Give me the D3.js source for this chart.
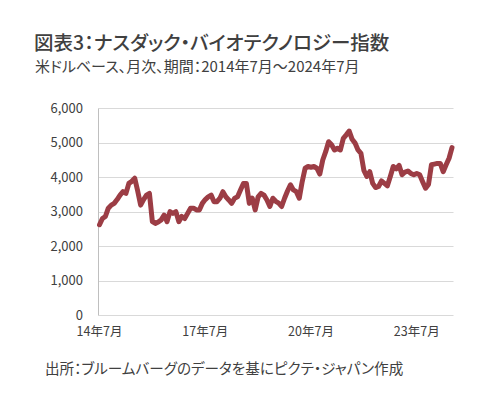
<!DOCTYPE html>
<html>
<head>
<meta charset="utf-8">
<script src="https://cdn.jsdelivr.net/npm/d3@7"></script>
<style>
  body { margin: 0; background: #fff; }
  svg text { font-family: "Noto Sans CJK JP", "Noto Sans", sans-serif; font-feature-settings: "palt"; }
</style>
</head>
<body>
<svg id="chart" width="501" height="398"></svg>
<script>
// monthly index level, 2014-07 .. 2024-07
var values = [
  2620, 2800, 2860, 3100, 3190, 3240, 3350, 3480, 3580, 3530, 3820, 3880,
  3970, 3600, 3190, 3350, 3480, 3530, 2710, 2660, 2700, 2760, 2900, 2710,
  3000, 2950, 3000, 2710, 2860, 2800, 2950, 3100, 3100, 3050, 3050, 3240,
  3350, 3430, 3480, 3290, 3290, 3390, 3580, 3430, 3340, 3240, 3390, 3430,
  3630, 3820, 3820, 3240, 3390, 3050, 3430, 3530, 3480, 3340, 3150, 3390,
  3300, 3250, 3150, 3390, 3600, 3780, 3630, 3580, 3390, 3870, 4260, 4310,
  4290, 4310, 4260, 4090, 4500, 4740, 5030, 4940, 4790, 4840, 4790, 5130,
  5230, 5340, 5100, 4990, 4790, 4690, 4200, 4020, 4160, 3820, 3700, 3730,
  3890, 3820, 3750, 4020, 4310, 4240, 4340, 4070, 4150, 4180, 4110, 4070,
  4110, 4070, 3870, 3680, 3790, 4360, 4380, 4400, 4400, 4160, 4360, 4550,
  4860
];
var yTicks = [0, 1000, 2000, 3000, 4000, 5000, 6000];
var xTickIdx = [0, 36, 72, 108];
var xTickLabels = ["14年7月", "17年7月", "20年7月", "23年7月"];

var title = "図表3：ナスダック・バイオテクノロジー指数";
var subtitle = "米ドルベース、月次、期間：2014年7月～2024年7月";
var source = "出所：ブルームバーグのデータを基にピクテ・ジャパン作成";

var svg = d3.select("#chart");

var x = d3.scaleLinear().domain([0, values.length - 1]).range([99.5, 452]);
var y = d3.scaleLinear().domain([0, 6000]).range([315, 108.3]);

svg.append("text")
  .attr("x", 34).attr("y", 50)
  .attr("font-size", 19.5).attr("font-weight", 500)
  .attr("fill", "#404040")
  .text(title);

svg.append("text")
  .attr("x", 35).attr("y", 72)
  .attr("font-size", 15)
  .attr("fill", "#404040")
  .text(subtitle);

// gridlines
svg.append("g").selectAll("line")
  .data(yTicks.slice(1))
  .enter().append("line")
    .attr("x1", 98.5).attr("x2", 453.5)
    .attr("y1", function(d) { return Math.round(y(d)) + 0.5; })
    .attr("y2", function(d) { return Math.round(y(d)) + 0.5; })
    .attr("stroke", "#d9d9d9").attr("stroke-width", 1);

// x baseline + y axis line
svg.append("line")
  .attr("x1", 98.5).attr("x2", 453.5)
  .attr("y1", Math.round(y(0)) + 0.5).attr("y2", Math.round(y(0)) + 0.5)
  .attr("stroke", "#d9d9d9");
svg.append("line")
  .attr("x1", 98.5).attr("x2", 98.5)
  .attr("y1", Math.round(y(6000)) + 0.5).attr("y2", Math.round(y(0)) + 0.5)
  .attr("stroke", "#bfbfbf");

// y labels
svg.append("g").selectAll("text")
  .data(yTicks)
  .enter().append("text")
    .attr("x", 83)
    .attr("y", function(d) { return y(d); })
    .attr("dy", "0.35em")
    .attr("text-anchor", "end")
    .attr("font-size", 13)
    .attr("fill", "#404040")
    .text(d3.format(","));

// x labels
svg.append("g").selectAll("text")
  .data(xTickIdx)
  .enter().append("text")
    .attr("x", function(d) { return x(d); })
    .attr("y", 332)
    .attr("dy", "0.35em")
    .attr("text-anchor", "middle")
    .attr("font-size", 12.5)
    .attr("fill", "#404040")
    .text(function(d, i) { return xTickLabels[i]; });

var line = d3.line()
  .x(function(d, i) { return x(i); })
  .y(function(d) { return y(d); });

svg.append("path")
  .datum(values)
  .attr("d", line)
  .attr("fill", "none")
  .attr("stroke", "#9c3d45")
  .attr("stroke-width", 5)
  .attr("stroke-linejoin", "round")
  .attr("stroke-linecap", "round");

svg.append("text")
  .attr("x", 45).attr("y", 374)
  .attr("font-size", 14.6)
  .attr("fill", "#404040")
  .text(source);
</script>
</body>
</html>
